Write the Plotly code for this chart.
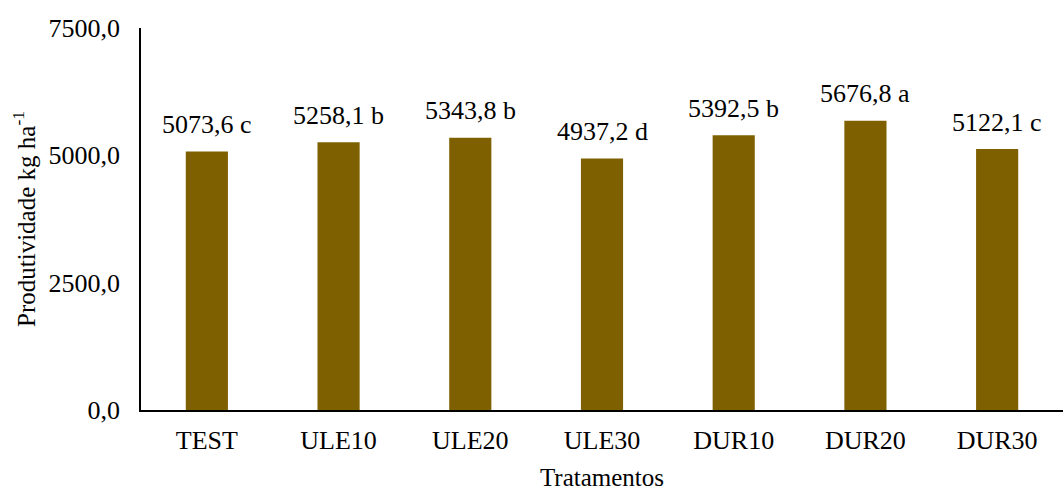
import plotly.graph_objects as go

# Yield per treatment (kg/ha) with statistical grouping letters
tratamentos = ["TEST", "ULE10", "ULE20", "ULE30", "DUR10", "DUR20", "DUR30"]
produtividade = [5073.6, 5258.1, 5343.8, 4937.2, 5392.5, 5676.8, 5122.1]
letras = ["c", "b", "b", "d", "b", "a", "c"]
y_ticks = [0, 2500, 5000, 7500]

font_family = "Liberation Serif"
font_size = 26
title_size = 25
bar_color = "#7F6000"


def fmt(v):
    return f"{v:.1f}".replace(".", ",")


fig = go.Figure()
fig.add_trace(go.Bar(
    x=tratamentos,
    y=produtividade,
    marker=dict(color=bar_color, line=dict(width=0)),
    width=0.32,
    hoverinfo="skip",
))

for t, v, l in zip(tratamentos, produtividade, letras):
    fig.add_annotation(
        x=t, y=v, text=f"{fmt(v)} {l}", showarrow=False,
        yanchor="middle", yshift=27,
        font=dict(family=font_family, size=font_size, color="#000"),
    )

fig.update_layout(
    width=1063, height=491,
    margin=dict(l=141, r=0, t=28, b=81),
    plot_bgcolor="white", paper_bgcolor="white",
    showlegend=False,
    font=dict(family=font_family, size=font_size, color="#000"),
)
fig.update_xaxes(
    showline=True, linecolor="#000", linewidth=1.5,
    showgrid=False, ticks="", ticklabelstandoff=6,
    title=dict(text="Tratamentos", standoff=20,
               font=dict(family=font_family, size=title_size)),
    tickfont=dict(family=font_family, size=font_size),
)
fig.update_yaxes(
    range=[0, 7500], tickvals=y_ticks,
    ticktext=[fmt(v) for v in y_ticks],
    showline=True, linecolor="#000", linewidth=1.5,
    showgrid=False, zeroline=False, ticks="", ticklabelstandoff=14,
    title=dict(text="Produtividade kg ha<sup>-1</sup>", standoff=6,
               font=dict(family=font_family, size=title_size)),
    tickfont=dict(family=font_family, size=font_size),
)

fig.write_html("out.html")
